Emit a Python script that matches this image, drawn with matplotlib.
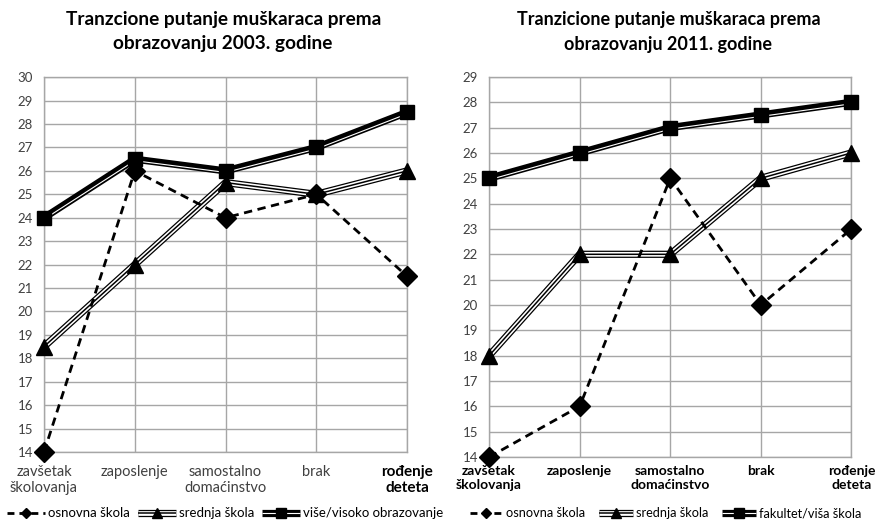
import numpy as np
import matplotlib
matplotlib.use('Agg')
import matplotlib.pyplot as plt
from matplotlib.lines import Line2D
from matplotlib.legend_handler import HandlerTuple
import matplotlib.transforms as mtransforms

plt.rcParams['font.family'] = ['Lato', 'DejaVu Sans']

categories = ['zavšetak\nškolovanja', 'zaposlenje', 'samostalno\ndomaćinstvo',
              'brak', 'rođenje\ndeteta']

# 2003
osnovna_03 = [14, 26, 24, 25, 21.5]
srednja_03 = [18.5, 22, 25.5, 25, 26]
visoko_03 = [24, 26.5, 26, 27, 28.5]

# 2011
osnovna_11 = [14, 16, 25, 20, 23]
srednja_11 = [18, 22, 22, 25, 26]
fakultet_11 = [25, 26, 27, 27.5, 28]

grid_col = '#a6a6a6'


def draw_dashed(ax, y):
    ax.plot(range(len(y)), y, color='black', lw=2.0, ls=(0, (3, 2)),
            marker='D', ms=10, mfc='black', mec='black', clip_on=False, zorder=5)


def draw_triple(ax, y):
    x = range(len(y))
    ax.plot(x, y, color='black', lw=5.2, solid_capstyle='butt', clip_on=False, zorder=3)
    ax.plot(x, y, color='white', lw=3.4, solid_capstyle='butt', clip_on=False, zorder=3)
    ax.plot(x, y, color='black', lw=1.1, solid_capstyle='butt', clip_on=False, zorder=3)
    ax.plot(x, y, ls='none', marker='^', ms=11, color='black', clip_on=False, zorder=6)


def draw_thickthin(ax, fig, y):
    x = range(len(y))
    ax.plot(x, y, color='black', lw=5.2, solid_capstyle='butt', clip_on=False, zorder=4)
    tr = mtransforms.offset_copy(ax.transData, fig=fig, x=0, y=-1.1, units='points')
    ax.plot(x, y, color='white', lw=0.8, transform=tr, clip_on=False, zorder=4)
    ax.plot(x, y, ls='none', marker='s', ms=10, color='black', clip_on=False, zorder=7)


def style_axis(ax, ymin, ymax, bold_labels, xpad, xsize):
    ax.set_xlim(0, len(categories) - 1)
    ax.set_ylim(ymin, ymax)
    ax.set_yticks(np.arange(ymin, ymax + 1))
    ax.set_xticks(range(len(categories)))
    ax.grid(True, color=grid_col, lw=1.0)
    ax.set_axisbelow(True)
    for s in ax.spines.values():
        s.set_color(grid_col)
        s.set_linewidth(1.0)
    ax.tick_params(length=0, labelsize=9.5, colors='#404040')
    ax.tick_params(axis='y', pad=8)
    ax.tick_params(axis='x', pad=xpad, labelsize=xsize)
    ax.set_xticklabels(categories)
    for i, lab in enumerate(ax.get_xticklabels()):
        if bold_labels or i == len(categories) - 1:
            lab.set_fontweight('bold')
            lab.set_color('black')
            if not bold_labels:
                lab.set_fontsize(11)


def legend_handles():
    h1 = Line2D([], [], color='black', lw=2.0, ls=(0, (2.5, 1.8)), marker='D', ms=5.5)
    h2 = (Line2D([], [], color='black', lw=5.2, solid_capstyle='butt'),
          Line2D([], [], color='white', lw=3.4, solid_capstyle='butt'),
          Line2D([], [], color='black', lw=1.1, solid_capstyle='butt'),
          Line2D([], [], ls='none', marker='^', ms=6.5, color='black'))
    h3 = (Line2D([], [], color='black', lw=5.2, solid_capstyle='butt'),
          Line2D([], [], color='white', lw=0.8, solid_capstyle='butt'),
          Line2D([], [], ls='none', marker='s', ms=6.5, color='black'))
    return [h1, h2, h3]


fig = plt.figure(figsize=(8.75, 5.25), dpi=100)

ax1 = fig.add_axes([0.0503, 0.139, 0.415, 0.714])
ax2 = fig.add_axes([0.559, 0.1295, 0.414, 0.724])

draw_dashed(ax1, osnovna_03)
draw_triple(ax1, srednja_03)
draw_thickthin(ax1, fig, visoko_03)
style_axis(ax1, 14, 30, False, 9, 10.5)

draw_dashed(ax2, osnovna_11)
draw_triple(ax2, srednja_11)
draw_thickthin(ax2, fig, fakultet_11)
style_axis(ax2, 14, 29, True, 6, 10)

fig.text(0.255, 0.98, 'Tranzcione putanje muškaraca prema\nobrazovanju 2003. godine',
         ha='center', va='top', fontsize=13.7, fontweight='bold', linespacing=1.55)
fig.text(0.764, 0.98, 'Tranzicione putanje muškaraca prema\nobrazovanju 2011. godine',
         ha='center', va='top', fontsize=13, fontweight='bold', linespacing=1.6)

leg1 = fig.legend(legend_handles(), ['osnovna škola', 'srednja škola', 'više/visoko obrazovanje'],
                  handler_map={tuple: HandlerTuple(ndivide=1)},
                  loc='center left', bbox_to_anchor=(0.008, 0.022), ncol=3, frameon=False,
                  fontsize=9.5, handlelength=2.9, handletextpad=0.2, columnspacing=0.6,
                  borderaxespad=0, borderpad=0)
leg2 = fig.legend(legend_handles(), ['osnovna škola', 'srednja škola', 'fakultet/viša škola'],
                  handler_map={tuple: HandlerTuple(ndivide=1)},
                  loc='center left', bbox_to_anchor=(0.537, 0.022), ncol=3, frameon=False,
                  fontsize=9.2, handlelength=2.6, handletextpad=0.25, columnspacing=1.1,
                  borderaxespad=0, borderpad=0)

fig.savefig('out.png', dpi=100)
